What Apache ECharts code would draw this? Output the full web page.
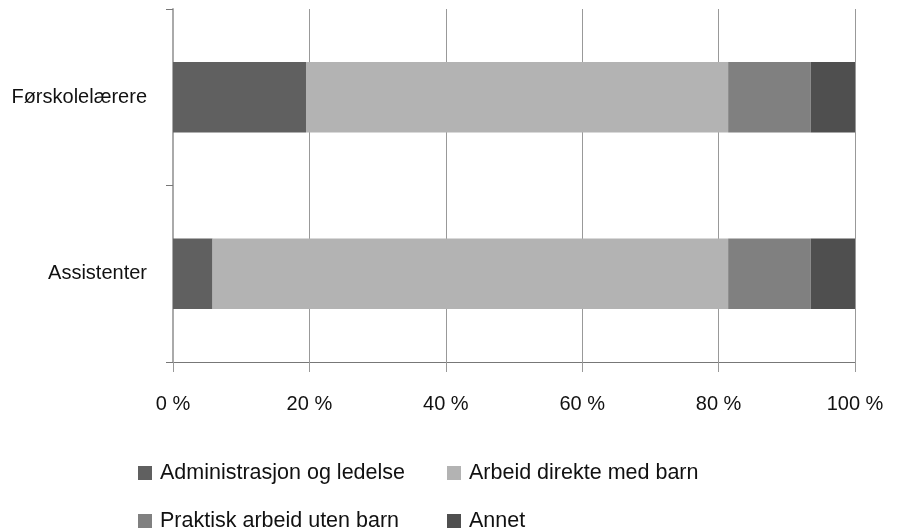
<!DOCTYPE html>
<html>
<head>
<meta charset="utf-8">
<script src="https://cdn.jsdelivr.net/npm/echarts@6/dist/echarts.min.js"></script>
<style>
    html, body { margin: 0; padding: 0; background: #fff; }
    #chart { width: 897px; height: 532px; }
</style>
</head>
<body>
<div id="chart"></div>
<script>
// categories, top to bottom
var groups = ['Førskolelærere', 'Assistenter'];
var seriesNames = ['Administrasjon og ledelse', 'Arbeid direkte med barn', 'Praktisk arbeid uten barn', 'Annet'];
// percent shares per group, same order as groups
var admin = [19.5, 5.8];
var direkte = [61.9, 75.6];
var praktisk = [12.1, 12.1];
var annet = [6.5, 6.5];
var tickLabels = [0, 20, 40, 60, 80, 100];

var colors = ['#606060', '#b3b3b3', '#808080', '#4f4f4f'];
var values = [admin, direkte, praktisk, annet];

var chart = echarts.init(document.getElementById('chart'));
var font = 'Liberation Sans, Arial, Helvetica, sans-serif';

var series = [];
for (var i = 0; i < seriesNames.length; i++) {
    series.push({
        name: seriesNames[i],
        type: 'bar',
        stack: 'total',
        barWidth: '40%',
        itemStyle: { color: colors[i] },
        data: values[i]
    });
}

// legend laid out as 2x2 grid, one legend per item
var legendPos = [[133, 457], [442, 457], [133, 505], [442, 505]];
var legends = [];
for (var j = 0; j < seriesNames.length; j++) {
    legends.push({
        data: [seriesNames[j]],
        left: legendPos[j][0],
        top: legendPos[j][1],
        icon: 'rect',
        itemWidth: 14,
        itemHeight: 14,
        textStyle: { fontFamily: font, fontSize: 21.5, color: '#111', padding: [0, 0, 0, 3] }
    });
}

var option = {
    animation: false,
    color: colors,
    grid: { left: 173, right: 42, top: 9, bottom: 170 },
    xAxis: {
        type: 'value',
        min: tickLabels[0],
        max: tickLabels[tickLabels.length - 1],
        interval: 20,
        axisLine: { show: true, lineStyle: { color: '#777', width: 1 } },
        axisTick: { show: true, length: 10, lineStyle: { color: '#999' } },
        splitLine: { show: true, lineStyle: { color: '#999', width: 1 } },
        axisLabel: {
            formatter: '{value} %',
            fontFamily: font,
            fontSize: 20,
            color: '#111',
            margin: 32
        }
    },
    yAxis: {
        type: 'category',
        inverse: true,
        data: groups,
        axisLine: { show: true, lineStyle: { color: '#aaa', width: 2 } },
        axisTick: { show: true, length: 7, lineStyle: { color: '#777' } },
        axisLabel: {
            fontFamily: font,
            fontSize: 20,
            color: '#111',
            margin: 26,
            padding: [3, 0, 0, 0]
        }
    },
    legend: legends,
    series: series
};
chart.setOption(option);
</script>
</body>
</html>
